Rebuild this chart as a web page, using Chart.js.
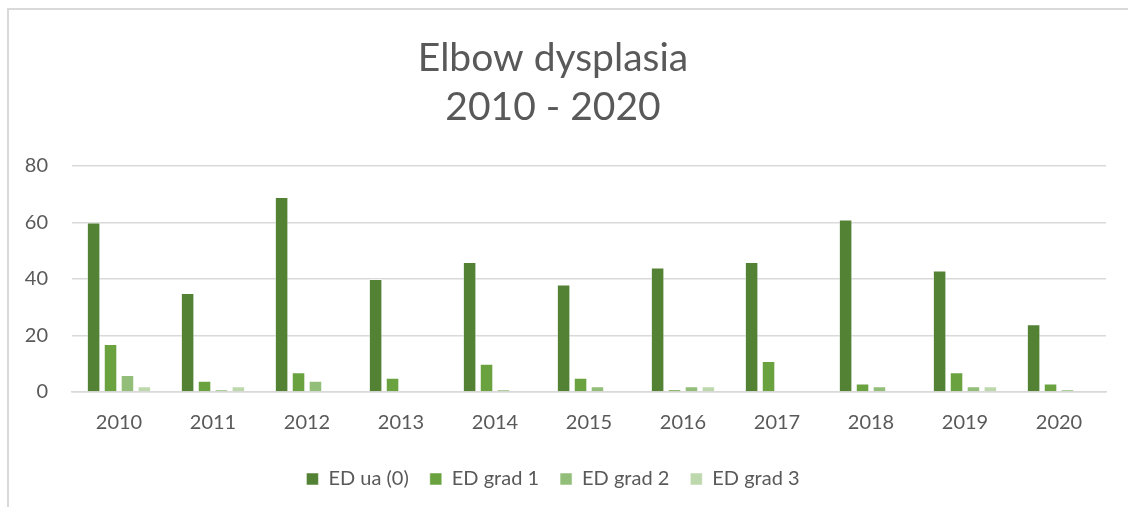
<!DOCTYPE html>
<html>
<head>
<meta charset="utf-8">
<script src="https://cdn.jsdelivr.net/npm/chart.js@4"></script>
<style>
  html, body { margin: 0; padding: 0; background: #ffffff; }
  #wrap { position: relative; width: 1128px; height: 507px; overflow: hidden; }
  #frame { position: absolute; left: 7px; top: 8px; width: 1200px; height: 600px; border: 2px solid #d9d9d9; box-sizing: border-box; }
  canvas { position: absolute; left: 0; top: 0; }
</style>
</head>
<body>
<div id="wrap">
  <div id="frame"></div>
  <canvas id="c" width="1128" height="507"></canvas>
</div>
<script>
const titleLines = ["Elbow dysplasia", "2010 - 2020"];
const categories = ["2010", "2011", "2012", "2013", "2014", "2015", "2016", "2017", "2018", "2019", "2020"];
const seriesNames = ["ED ua (0)", "ED grad 1", "ED grad 2", "ED grad 3"];
const edUa0   = [60, 35, 69, 40, 46, 38, 44, 46, 61, 43, 24];
const edGrad1 = [17, 4, 7, 5, 10, 5, 1, 11, 3, 7, 3];
const edGrad2 = [6, 1, 4, 0, 1, 2, 2, 0, 2, 2, 1];
const edGrad3 = [2, 2, 0, 0, 0, 0, 2, 0, 0, 2, 0];
const yTicks = [0, 20, 40, 60, 80];
const colors = ["#548235", "#6aa23f", "#92be79", "#bed8ae"];

const FONT = "Lato, 'Open Sans', sans-serif";
const TXT = "#595959";

const seriesValues = [edUa0, edGrad1, edGrad2, edGrad3];
const datasets = seriesValues.map((vals, i) => ({
  label: seriesNames[i],
  data: vals,
  backgroundColor: colors[i],
  borderColor: "rgba(255,255,255,0.5)",
  borderWidth: 1,
  barPercentage: 0.8,
  categoryPercentage: 0.72
}));

new Chart(document.getElementById("c"), {
  type: "bar",
  data: { labels: categories, datasets },
  options: {
    responsive: false,
    animation: false,
    devicePixelRatio: 1,
    layout: { padding: { left: 0, right: 22, top: 0, bottom: 8 } },
    plugins: {
      title: {
        display: true,
        text: titleLines,
        color: TXT,
        font: { family: FONT, size: 39, weight: "normal", lineHeight: 1.28 },
        padding: { top: 33, bottom: 33 }
      },
      legend: {
        position: "bottom",
        labels: {
          color: TXT,
          font: { family: FONT, size: 20 },
          boxWidth: 12,
          boxHeight: 12,
          padding: 21
        }
      },
      tooltip: { enabled: false }
    },
    scales: {
      x: {
        afterFit: (s) => { s.height = 56; },
        grid: { display: false, drawTicks: false },
        border: { display: true, color: "#d9d9d9", width: 1.5 },
        ticks: { color: TXT, font: { family: FONT, size: 20 }, padding: 19 }
      },
      y: {
        min: 0,
        max: 80,
        afterFit: (s) => { s.width = 72; },
        afterBuildTicks: (s) => { s.ticks = yTicks.map(v => ({ value: v })); },
        grid: { color: "#d9d9d9", lineWidth: 1.5, drawTicks: false },
        border: { display: false },
        ticks: { color: TXT, font: { family: FONT, size: 20 }, padding: 24 }
      }
    }
  }
});
</script>
</body>
</html>
